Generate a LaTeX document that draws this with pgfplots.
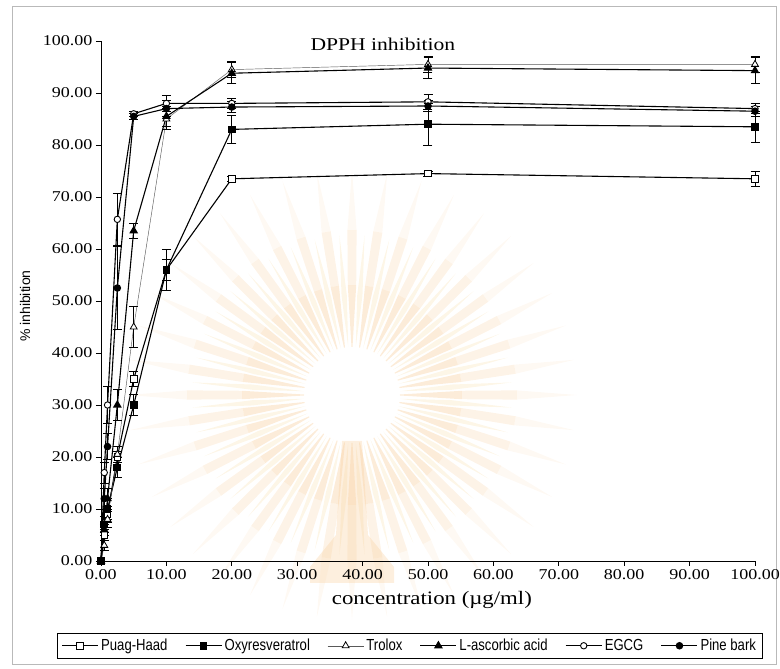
\documentclass[border=0pt]{standalone}
\usepackage{fontspec}
\setmainfont{Liberation Serif}[FakeStretch=1.2]
\newfontfamily\legfont{Liberation Sans}[FakeStretch=0.82]
\newfontfamily\ylabfont{Liberation Sans}
\usepackage{pgfplots}
\usepackage{pgfplotstable}
\pgfplotsset{compat=1.18}

% columns: concentration, mean inhibition, error
\pgfplotstableread{
x y e
0 0 0
0.5 5 1
1 9 1.5
2.5 20 1
5 35 1.5
10 56 2
20 73.5 0.5
50 74.5 0.5
100 73.5 1.5
}\puag
\pgfplotstableread{
x y e
0 0 0
0.5 7 1.5
1 10 2
2.5 18 2
5 30 2
10 56 4
20 83 2.7
50 84 4
100 83.5 3
}\oxy
\pgfplotstableread{
x y e
0 0 0
0.5 3 1
1 8 1.5
2.5 20.5 1.5
5 45 4
10 85 2
20 94.5 1.5
50 95.5 1.5
100 95.5 1.5
}\trolox
\pgfplotstableread{
x y e
0 0 0
0.5 6 1
1 12 2
2.5 30 3
5 63.5 1.5
10 85.5 2
20 93.8 2
50 94.8 2
100 94.3 2.5
}\ascorbic
\pgfplotstableread{
x y e
0 0 0
0.5 17 2
1 30 3.5
2.5 65.7 5
5 86 0.5
10 88 1.5
20 88 1
50 88.3 1.5
100 87 1
}\egcg
\pgfplotstableread{
x y e
0 0 0
0.5 12 2
1 22 2.5
2.5 52.5 8
5 85.5 0.5
10 87 1.5
20 87.3 1
50 87.5 1
100 86.5 1
}\pine

\definecolor{rayA}{RGB}{248,208,160}
\definecolor{rayB}{RGB}{250,228,185}

\begin{document}
\begin{tikzpicture}
\path[use as bounding box] (-101pt,-108pt) rectangle (679pt,561pt);
% faint sunburst seal in the background, fading outwards in three rings
\begin{scope}[shift={(251pt,166pt)}]
  \foreach \a in {0,9,...,351}{
    \fill[rayA, opacity=0.40] (\a-0.6:48pt) -- (\a-2.2:110pt) -- (\a+2.2:110pt) -- (\a+0.6:48pt) -- cycle;
    \fill[rayA, opacity=0.25] (\a-2.2:110pt) -- (\a-1.6:165pt) -- (\a+1.6:165pt) -- (\a+2.2:110pt) -- cycle;
    \fill[rayA, opacity=0.12] (\a-1.6:165pt) -- (\a:225pt) -- (\a+1.6:165pt) -- cycle;
    \fill[rayB, opacity=0.35] (\a+4.5:48pt) -- (\a+3:100pt) -- (\a+4.5:160pt) -- (\a+6:100pt) -- cycle;
  }
  \fill[rayA, opacity=0.35] (-10pt,-46pt) -- (10pt,-46pt) -- (16pt,-140pt) -- (42pt,-172pt) -- (42pt,-188pt) -- (-42pt,-188pt) -- (-42pt,-172pt) -- (-16pt,-140pt) -- cycle;
  \fill[white] (0,0) circle (44pt);
\end{scope}
\draw[gray!55, line width=0.6pt] (-89pt,-103pt) rectangle (675pt,555pt);
\begin{axis}[
  at={(0,0)}, anchor=south west,
  width=654pt, height=520pt, scale only axis,
  xmin=0, xmax=100, ymin=0, ymax=100,
  clip=false,
  axis x line*=bottom, axis y line*=left,
  axis line style={line width=0.8pt},
  xtick={0,10,...,100}, ytick={0,10,...,100},
  tick align=outside, major tick length=5pt,
  tick style={black, line width=0.8pt},
  /pgf/number format/.cd, fixed, fixed zerofill, precision=2, assume math mode=true,
  /pgfplots/.cd,
  tick label style={font=\fontsize{15}{17}\selectfont},
  xlabel={concentration (µg/ml)},
  xlabel style={at={(axis description cs:0.506,-0.075)}, anchor=center, font=\fontsize{19}{21}\selectfont},
  ylabel={\% inhibition},
  ylabel style={at={(axis description cs:-0.116,0.49)}, anchor=center, font=\ylabfont\fontsize{14}{16}\selectfont},
  legend columns=6,
  legend style={at={(0.4725,-0.163)}, anchor=center, draw=black, line width=0.6pt,
    font=\legfont\fontsize{16}{18}\selectfont, inner xsep=4pt, inner ysep=4pt,
    nodes={inner xsep=2.5pt},
    /tikz/every even column/.append style={column sep=15pt}},
  legend image code/.code={\draw[mark repeat=2, mark phase=2] plot coordinates {(0pt,0pt) (18pt,0pt) (36pt,0pt)};},
  every axis plot/.append style={black, line width=1.1pt},
  error bars/y dir=both, error bars/y explicit,
  error bars/error bar style={line width=0.8pt, black, solid},
  error bars/error mark options={rotate=90, mark size=4.5pt, line width=0.8pt, black},
]
\addplot[mark=square*, mark options={fill=white, line width=0.9pt, solid}, mark size=3.3pt]
  table[x=x, y=y, y error=e] {\puag};
\addlegendentry{Puag-Haad}
\addplot[mark=square*, mark options={fill=black, solid}, mark size=3.3pt]
  table[x=x, y=y, y error=e] {\oxy};
\addlegendentry{Oxyresveratrol}
\addplot[line width=0.45pt, draw=gray!70!black, mark=triangle*, mark options={fill=white, draw=black, line width=0.8pt, solid}, mark size=4pt]
  table[x=x, y=y, y error=e] {\trolox};
\addlegendentry{Trolox}
\addplot[mark=triangle*, mark options={fill=black, solid}, mark size=4pt]
  table[x=x, y=y, y error=e] {\ascorbic};
\addlegendentry{L-ascorbic acid}
\addplot[mark=*, mark options={fill=white, line width=0.9pt, solid}, mark size=3.2pt]
  table[x=x, y=y, y error=e] {\egcg};
\addlegendentry{EGCG}
\addplot[mark=*, mark options={fill=black, solid}, mark size=3.2pt]
  table[x=x, y=y, y error=e] {\pine};
\addlegendentry{Pine bark}
\node[font=\fontsize{18}{20}\selectfont] at (axis cs:43.1,99.4) {DPPH inhibition};
\end{axis}
\end{tikzpicture}
\end{document}
